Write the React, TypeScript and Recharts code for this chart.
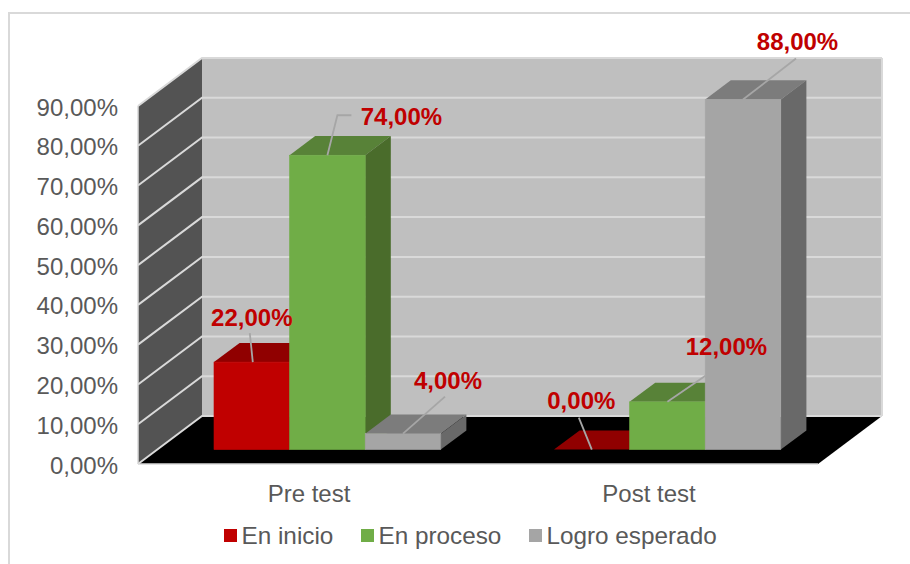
import { BarChart, Bar, XAxis, YAxis, Legend, LabelList, ReferenceArea } from 'recharts';

const categories = ['Pre test', 'Post test'];
const enInicio = [22, 0];
const enProceso = [74, 12];
const logroEsperado = [4, 88];
const yTicks = [0, 10, 20, 30, 40, 50, 60, 70, 80, 90];

const chartData = categories.map((name, i) => ({
    name,
    enInicio: enInicio[i],
    enProceso: enProceso[i],
    logroEsperado: logroEsperado[i],
}));

// 3D projection, in pixels
const WALL_DX = 64;
const WALL_DY = 48;
const BAR_OFFSET_X = 19;
const BAR_OFFSET_Y = 14.4;
const BAR_DX = 25.6;
const BAR_DY = 19.2;

const TEXT_COLOR = '#595959';
const LABEL_COLOR = '#C00000';
const EDGE_COLOR = '#D9D9D9';
const LEADER_COLOR = '#A6A6A6';
const FONT = '"Liberation Sans", Arial, sans-serif';

const formatPercent = (v: number) => `${v.toFixed(2).replace('.', ',')}%`;

function Walls({ x, y, width, height }: any) {
    const bottom = y + height;
    const right = x + width;
    return (
        <g>
            <polygon
                points={`${x},${bottom} ${right},${bottom} ${right + WALL_DX},${bottom - WALL_DY} ${x + WALL_DX},${bottom - WALL_DY}`}
                fill="#000000"
            />
            <polygon
                points={`${x},${y} ${x + WALL_DX},${y - WALL_DY} ${x + WALL_DX},${bottom - WALL_DY} ${x},${bottom}`}
                fill="#535353"
            />
            <rect x={x + WALL_DX} y={y - WALL_DY} width={width} height={height} fill="#BFBFBF" />
            {yTicks.map((t) => {
                const ty = bottom - (t / 90) * height;
                return (
                    <polyline
                        key={t}
                        points={`${x},${ty} ${x + WALL_DX},${ty - WALL_DY} ${right + WALL_DX},${ty - WALL_DY}`}
                        fill="none"
                        stroke={EDGE_COLOR}
                        strokeWidth={2}
                    />
                );
            })}
            <line
                x1={right + WALL_DX}
                y1={y - WALL_DY}
                x2={right + WALL_DX}
                y2={bottom - WALL_DY}
                stroke={EDGE_COLOR}
                strokeWidth={2}
            />
        </g>
    );
}

function bar3d(front: string, top: string, side: string) {
    return function Bar3d({ x, y, width, height }: any) {
        const fx = x + BAR_OFFSET_X;
        const fy = y - BAR_OFFSET_Y;
        const fr = fx + width;
        const fb = fy + height;
        return (
            <g>
                <polygon
                    points={`${fx},${fy} ${fr},${fy} ${fr + BAR_DX},${fy - BAR_DY} ${fx + BAR_DX},${fy - BAR_DY}`}
                    fill={top}
                />
                <polygon
                    points={`${fr},${fy} ${fr + BAR_DX},${fy - BAR_DY} ${fr + BAR_DX},${fb - BAR_DY} ${fr},${fb}`}
                    fill={side}
                />
                {/* thin stroke closes the seam between neighbouring bars */}
                {height > 0 && (
                    <rect x={fx} y={fy} width={width} height={height} fill={front} stroke={front} strokeWidth={0.6} />
                )}
            </g>
        );
    };
}

// leader line points and label centre, relative to the middle of the bar's front top edge
const inicioCallouts = [
    { leader: [[1, 0], [-2, -29]], label: [0, -45] },
    { leader: [[0, 0], [-13, -32]], label: [-10.5, -49.5] },
];
const procesoCallouts = [
    { leader: [[0, 0], [10, -40], [24, -40]], label: [74, -39] },
    { leader: [[0, 0], [38, -26]], label: [59, -55] },
];
const logroCallouts = [
    { leader: [[0, 0], [42, -37]], label: [45, -53] },
    { leader: [[0, 0], [53, -41]], label: [54.5, -58] },
];

function callout(layouts: any[]) {
    return function Callout({ x, y, width, value, index }: any) {
        const ax = x + width / 2 + BAR_OFFSET_X;
        const ay = y - BAR_OFFSET_Y;
        const { leader, label } = layouts[index];
        return (
            <g>
                <polyline
                    points={leader.map(([dx, dy]: number[]) => `${ax + dx},${ay + dy}`).join(' ')}
                    fill="none"
                    stroke={LEADER_COLOR}
                    strokeWidth={1.8}
                />
                <text
                    x={ax + label[0]}
                    y={ay + label[1] + 8.5}
                    textAnchor="middle"
                    fontFamily={FONT}
                    fontSize={24}
                    fontWeight="bold"
                    fill={LABEL_COLOR}
                >
                    {formatPercent(value)}
                </text>
            </g>
        );
    };
}

function LegendRow({ payload }: any) {
    return (
        <div style={{ position: 'relative', height: 0 }}>
            <div style={{ position: 'absolute', left: 224, top: 0, display: 'flex', whiteSpace: 'nowrap' }}>
                {(payload || []).map((item: any) => (
                    <div key={item.value} style={{ display: 'flex', alignItems: 'center', marginRight: 27.6 }}>
                        <span style={{ width: 13, height: 13, background: item.color, marginRight: 4.5 }} />
                        <span
                            style={{
                                fontFamily: FONT,
                                fontSize: 24.3,
                                lineHeight: '28px',
                                color: TEXT_COLOR,
                                position: 'relative',
                                top: 1,
                            }}
                        >
                            {item.value}
                        </span>
                    </div>
                ))}
            </div>
        </div>
    );
}

export default function App() {
    return (
        <div style={{ position: 'absolute', left: 0, top: 0, width: 910, height: 564, overflow: 'hidden', background: '#fff' }}>
            <div
                style={{
                    position: 'absolute',
                    left: 8,
                    top: 12,
                    width: 1000,
                    height: 1000,
                    border: `2px solid ${EDGE_COLOR}`,
                }}
            />
            <BarChart
                width={910}
                height={564}
                data={chartData}
                margin={{ top: 106, right: 92, bottom: 60, left: 0 }}
                barGap={0}
                barSize={75.6}
                style={{ position: 'absolute', left: 0, top: 0 }}
            >
                <ReferenceArea y1={0} y2={90} shape={Walls} ifOverflow="visible" />
                <XAxis
                    dataKey="name"
                    height={40}
                    tickLine={false}
                    axisLine={{ stroke: EDGE_COLOR, strokeWidth: 1.5 }}
                    tick={{ fontFamily: FONT, fontSize: 24, fill: TEXT_COLOR, dx: 1 }}
                    tickMargin={15}
                />
                <YAxis
                    width={138}
                    domain={[0, 90]}
                    ticks={yTicks}
                    tickFormatter={formatPercent}
                    tickLine={false}
                    axisLine={{ stroke: EDGE_COLOR, strokeWidth: 1.5 }}
                    tick={{ fontFamily: FONT, fontSize: 24, fill: TEXT_COLOR, dy: 1 }}
                    tickMargin={14}
                    interval={0}
                />
                <Legend content={LegendRow} wrapperStyle={{ left: 0, top: 521, width: 910, height: 0 }} />
                <Bar
                    dataKey="enInicio"
                    name="En inicio"
                    fill="#C00000"
                    shape={bar3d('#C00000', '#900000', '#7A0000')}
                    isAnimationActive={false}
                >
                    <LabelList dataKey="enInicio" content={callout(inicioCallouts)} />
                </Bar>
                <Bar
                    dataKey="enProceso"
                    name="En proceso"
                    fill="#70AD47"
                    shape={bar3d('#70AD47', '#588238', '#4A6C2B')}
                    isAnimationActive={false}
                >
                    <LabelList dataKey="enProceso" content={callout(procesoCallouts)} />
                </Bar>
                <Bar
                    dataKey="logroEsperado"
                    name="Logro esperado"
                    fill="#A5A5A5"
                    shape={bar3d('#A5A5A5', '#7C7C7C', '#696969')}
                    isAnimationActive={false}
                >
                    <LabelList dataKey="logroEsperado" content={callout(logroCallouts)} />
                </Bar>
            </BarChart>
        </div>
    );
}
